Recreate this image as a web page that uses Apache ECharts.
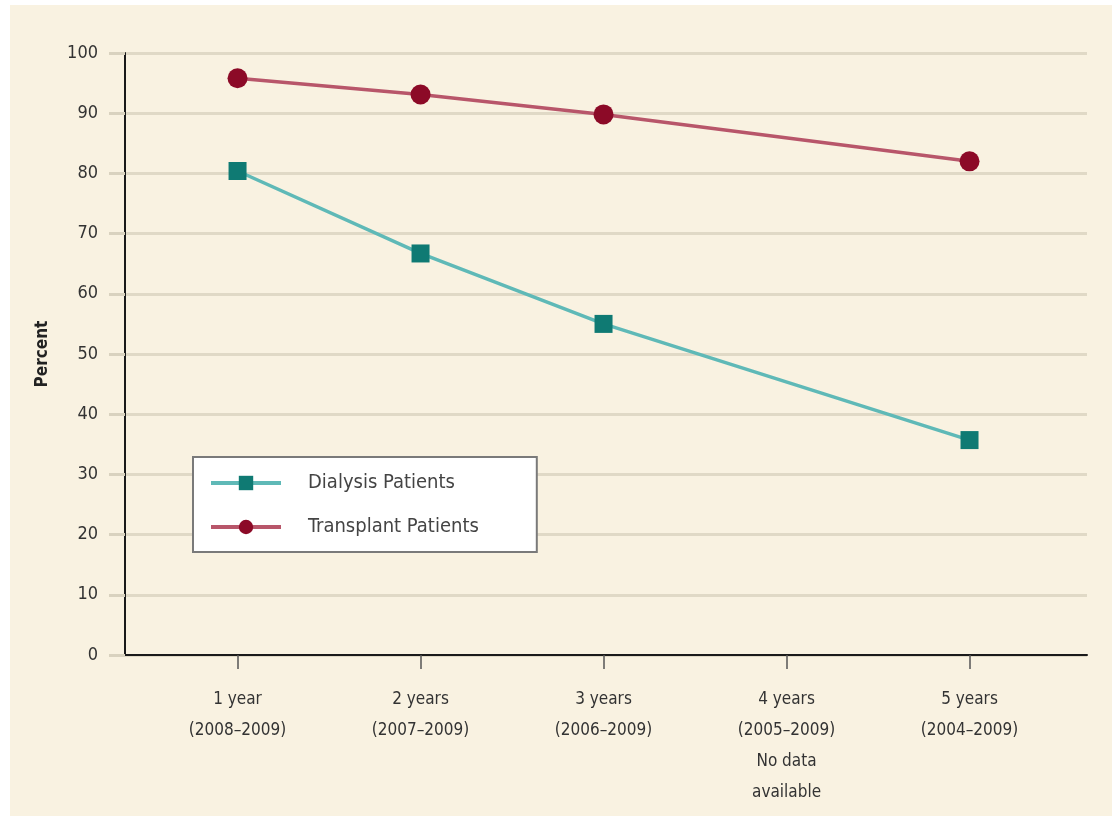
<!DOCTYPE html>
<html>
<head>
<meta charset="utf-8">
<script src="https://cdn.jsdelivr.net/npm/echarts@6/dist/echarts.min.js"></script>
<style>
  html, body { margin: 0; padding: 0; background: #ffffff; }
  #chart { position: absolute; left: 10px; top: 5px; width: 1102px; height: 811px; background: #f9f2e1; }
</style>
</head>
<body>
<div id="chart"></div>
<script>
// Survival percentages by follow-up period
const periods = ['1 year\n(2008–2009)', '2 years\n(2007–2009)', '3 years\n(2006–2009)', '4 years\n(2005–2009)\nNo data\navailable', '5 years\n(2004–2009)'];
const periodPositions = [1, 2, 3, 4, 5];
const dialysis = [80.4, 66.7, 55.0, null, 35.7];
const transplant = [95.8, 93.1, 89.8, null, 82.0];
const yTicks = [0, 10, 20, 30, 40, 50, 60, 70, 80, 90, 100];

const FONT = '"DejaVu Sans Condensed", "Liberation Sans Narrow", "Roboto", sans-serif';

function toPoints(values) {
  const pts = [];
  values.forEach((v, i) => { if (v !== null) pts.push([periodPositions[i], v]); });
  return pts;
}

const chart = echarts.init(document.getElementById('chart'), null, { renderer: 'canvas' });
chart.setOption({
  backgroundColor: '#f9f2e1',
  animation: false,
  grid: { left: 115, right: 25, top: 48, bottom: 161 },
  xAxis: {
    type: 'value',
    min: 0.385,
    max: 5.642,
    splitLine: { show: false },
    axisLine: { show: true, lineStyle: { color: '#1a1a1a', width: 2 } },
    axisTick: { show: true, customValues: periodPositions, length: 14, lineStyle: { color: '#555', width: 1.5 } },
    axisLabel: {
      show: true,
      customValues: periodPositions,
      formatter: v => periods[periodPositions.indexOf(Math.round(v))] || '',
      margin: 29,
      fontFamily: FONT,
      fontSize: 17,
      lineHeight: 31,
      color: '#333',
      align: 'center'
    }
  },
  yAxis: {
    type: 'value',
    min: 0,
    max: 100,
    interval: 10,
    name: 'Percent',
    nameLocation: 'middle',
    nameGap: 74,
    nameRotate: 90,
    nameTextStyle: { fontFamily: FONT, fontSize: 17, fontWeight: 'bold', color: '#222' },
    axisLine: { show: true, lineStyle: { color: '#1a1a1a', width: 2 } },
    axisTick: { show: true, inside: false, length: 16, lineStyle: { color: '#d9d2bf', width: 3 } },
    axisLabel: {
      fontFamily: FONT, fontSize: 18, color: '#333', margin: 27,
      formatter: v => yTicks.includes(v) ? String(v) : ''
    },
    splitLine: { show: true, lineStyle: { color: '#e0d9c6', width: 3 } }
  },
  legend: {
    left: 183,
    top: 452,
    orient: 'vertical',
    backgroundColor: '#ffffff',
    borderColor: '#7a7a7a',
    borderWidth: 2,
    borderRadius: 0,
    padding: [16, 58, 15, 16],
    itemWidth: 70,
    itemHeight: 18,
    itemGap: 24,
    lineStyle: { width: 4 },
    textStyle: { fontFamily: FONT, fontSize: 20, color: '#444', padding: [0, 0, 0, 22] },
    data: ['Dialysis Patients', 'Transplant Patients']
  },
  series: [
    {
      name: 'Dialysis Patients',
      type: 'line',
      data: toPoints(dialysis),
      symbol: 'rect',
      symbolSize: 18,
      lineStyle: { color: '#5fb9b7', width: 3.5 },
      itemStyle: { color: '#0f7a73' },
      z: 3
    },
    {
      name: 'Transplant Patients',
      type: 'line',
      data: toPoints(transplant),
      symbol: 'circle',
      symbolSize: 20,
      lineStyle: { color: '#b8566a', width: 3.5 },
      itemStyle: { color: '#8c0a27' },
      z: 3
    }
  ]
});
</script>
</body>
</html>
